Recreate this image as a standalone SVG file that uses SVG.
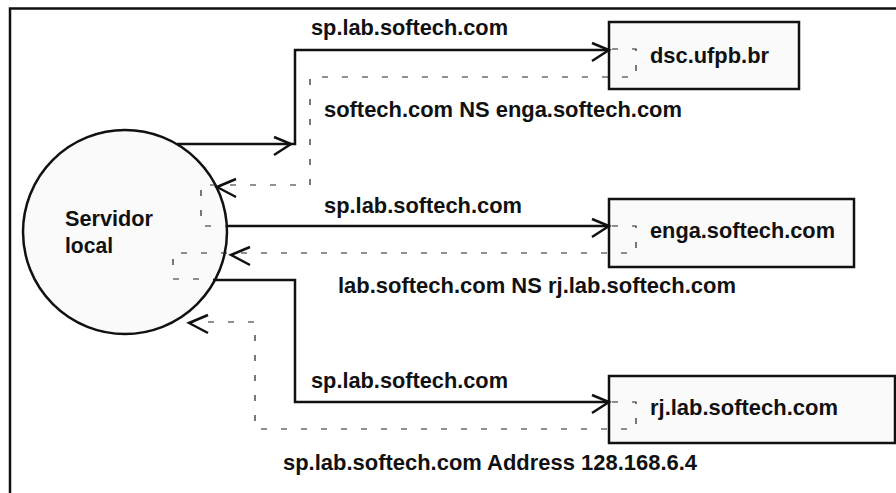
<svg xmlns="http://www.w3.org/2000/svg" xmlns:xlink="http://www.w3.org/1999/xlink" width="896" height="493" viewBox="0 0 896 493">
<style>
text{font-family:"Liberation Sans",Arial,Helvetica,sans-serif;font-weight:bold;font-size:21.5px;fill:#111}
.node{fill:#fafafa;stroke:#111;stroke-width:2.5}
.solid{fill:none;stroke:#111;stroke-width:2.5}
.dash{fill:none;stroke:#222;stroke-width:1.2;stroke-dasharray:6 14}
.ah{fill:none;stroke:#111;stroke-width:2.5;stroke-linejoin:miter}
.frame{fill:none;stroke:#111;stroke-width:2.5}
</style>
<defs>
<path id="ar" d="M-17,-7 L0,0 L-17,11"/>
<path id="al" d="M19,-7 L0,1 L19,11"/>
</defs>
<rect width="896" height="493" fill="#fff"/>
<path class="frame" d="M10,493 V8.5 H896"/>
<g id="servidor">
<circle class="node" cx="125" cy="232" r="102"/>
<text x="65" y="226" textLength="88" lengthAdjust="spacingAndGlyphs">Servidor</text>
<text x="65" y="253" textLength="48" lengthAdjust="spacingAndGlyphs">local</text>
</g>
<g id="dsc">
<rect class="node" x="609" y="22" width="190" height="67"/>
<text x="650" y="63" textLength="119" lengthAdjust="spacingAndGlyphs">dsc.ufpb.br</text>
</g>
<g id="enga">
<rect class="node" x="609" y="199" width="245" height="68"/>
<text x="650" y="238" textLength="185" lengthAdjust="spacingAndGlyphs">enga.softech.com</text>
</g>
<g id="rj">
<rect class="node" x="609" y="376" width="286" height="67"/>
<text x="650" y="415" textLength="188" lengthAdjust="spacingAndGlyphs">rj.lab.softech.com</text>
</g>
<g id="connectors">
<path class="solid" d="M177,144 H295 V50 H609"/>
<use href="#ar" xlink:href="#ar" class="ah" x="291" y="144"/>
<use href="#ar" xlink:href="#ar" class="ah" x="609" y="50"/>
<path class="solid" d="M227,226 H609"/>
<use href="#ar" xlink:href="#ar" class="ah" x="609" y="226"/>
<path class="solid" d="M213,280 H295 V402 H609"/>
<use href="#ar" xlink:href="#ar" class="ah" x="609" y="402"/>
<path class="dash" d="M612,49 H636 V77 H310 V185 H201 V226 H227"/>
<use href="#al" xlink:href="#al" class="ah" x="217" y="186"/>
<path class="dash" d="M612,226 H636 V253 H173 V279 H213"/>
<use href="#al" xlink:href="#al" class="ah" x="231" y="254"/>
<path class="dash" d="M612,402 H636 V429 H255 V322 H190"/>
<use href="#al" xlink:href="#al" class="ah" x="189" y="322"/>
<text x="311" y="35" textLength="197" lengthAdjust="spacingAndGlyphs">sp.lab.softech.com</text>
<text x="324" y="117" textLength="358" lengthAdjust="spacingAndGlyphs">softech.com NS enga.softech.com</text>
<text x="324" y="213" textLength="198" lengthAdjust="spacingAndGlyphs">sp.lab.softech.com</text>
<text x="338" y="293" textLength="398" lengthAdjust="spacingAndGlyphs">lab.softech.com NS rj.lab.softech.com</text>
<text x="311" y="388" textLength="197" lengthAdjust="spacingAndGlyphs">sp.lab.softech.com</text>
<text x="283" y="470" textLength="414" lengthAdjust="spacingAndGlyphs">sp.lab.softech.com Address 128.168.6.4</text>
</g>
</svg>
